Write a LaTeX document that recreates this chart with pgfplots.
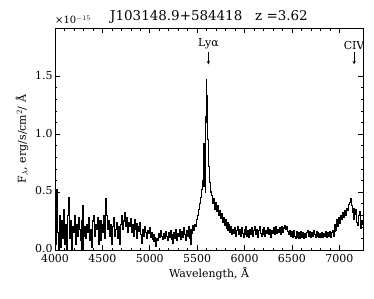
\documentclass[border=0pt]{standalone}
\usepackage{pgfplots}
\pgfplotsset{compat=1.18}
\usepackage{pgfplotstable}
\usepackage{fontspec}
\setmainfont{DejaVu Serif}
\usetikzlibrary{calc}
\pgfplotstableread{
x y
4000 0.30
4010 0.05
4020 0.52
4030 0.15
4040 0.00
4050 0.30
4060 0.02
4070 0.25
4080 0.10
4090 0.20
4100 0.35
4110 0.05
4120 0.22
4130 0.00
4140 0.30
4150 0.45
4160 0.10
4170 0.25
4180 0.00
4190 0.20
4200 0.15
4210 0.30
4220 0.05
4230 0.22
4240 0.12
4250 0.28
4260 0.18
4270 0.08
4280 0.25
4290 0.00
4300 0.38
4310 0.12
4320 0.20
4330 0.10
4340 0.22
4350 0.15
4360 0.28
4370 0.08
4380 0.18
4390 0.02
4400 0.25
4410 0.30
4420 0.12
4430 0.22
4440 0.18
4450 0.28
4460 0.05
4470 0.20
4480 0.25
4490 0.08
4500 0.22
4510 0.15
4520 0.30
4530 0.10
4540 0.44
4550 0.30
4560 0.18
4570 0.25
4580 0.12
4590 0.22
4600 0.05
4610 0.20
4620 0.28
4630 0.12
4640 0.18
4650 0.24
4660 0.10
4670 0.20
4680 0.15
4690 0.05
4700 0.22
4710 0.30
4720 0.18
4730 0.25
4740 0.32
4750 0.20
4760 0.28
4770 0.15
4780 0.24
4790 0.20
4800 0.27
4810 0.15
4820 0.22
4830 0.12
4840 0.26
4850 0.18
4860 0.23
4870 0.10
4880 0.20
4890 0.16
4900 0.24
4910 0.13
4920 0.06
4930 0.18
4940 0.12
4950 0.20
4960 0.15
4970 0.10
4980 0.17
4990 0.14
5000 0.19
5010 0.11
5020 0.15
5030 0.09
5040 0.13
5050 0.07
5060 0.11
5070 0.03
5080 0.10
5090 0.08
5100 0.14
5110 0.11
5120 0.17
5130 0.12
5140 0.09
5150 0.14
5160 0.10
5170 0.16
5180 0.12
5190 0.08
5200 0.15
5210 0.11
5220 0.17
5230 0.09
5240 0.13
5250 0.06
5260 0.15
5270 0.10
5280 0.18
5290 0.08
5300 0.14
5310 0.12
5320 0.18
5330 0.09
5340 0.16
5350 0.11
5360 0.19
5370 0.13
5380 0.08
5390 0.17
5400 0.12
5410 0.20
5420 0.10
5430 0.05
5440 0.18
5450 0.14
5460 0.21
5470 0.17
5480 0.22
5490 0.20
5500 0.26
5510 0.30
5520 0.35
5530 0.40
5540 0.45
5550 0.52
5560 0.60
5565 0.88
5570 0.55
5575 0.92
5580 0.60
5585 0.75
5590 0.50
5595 1.15
5600 1.47
5605 1.10
5610 1.33
5615 0.95
5620 0.80
5625 0.72
5630 0.65
5640 0.58
5650 0.50
5660 0.47
5670 0.40
5680 0.44
5690 0.35
5700 0.41
5710 0.33
5720 0.38
5730 0.30
5740 0.34
5750 0.27
5760 0.31
5770 0.24
5780 0.28
5790 0.21
5800 0.26
5810 0.19
5820 0.24
5830 0.17
5840 0.22
5850 0.15
5860 0.20
5870 0.13
5880 0.18
5890 0.14
5900 0.19
5910 0.12
5920 0.17
5930 0.20
5940 0.13
5950 0.18
5960 0.12
5970 0.19
5980 0.14
5990 0.11
6000 0.18
6010 0.13
6020 0.20
6030 0.12
6040 0.17
6050 0.11
6060 0.18
6070 0.13
6080 0.19
6090 0.12
6100 0.17
6110 0.20
6120 0.13
6130 0.18
6140 0.11
6150 0.17
6160 0.20
6170 0.14
6180 0.12
6190 0.18
6200 0.13
6210 0.19
6220 0.12
6230 0.17
6240 0.14
6250 0.19
6260 0.13
6270 0.18
6280 0.11
6290 0.17
6300 0.14
6310 0.19
6320 0.13
6330 0.20
6340 0.14
6350 0.18
6360 0.15
6370 0.19
6380 0.13
6390 0.18
6400 0.20
6410 0.15
6420 0.19
6430 0.21
6440 0.18
6450 0.20
6460 0.16
6470 0.13
6480 0.17
6490 0.12
6500 0.16
6510 0.11
6520 0.17
6530 0.12
6540 0.10
6550 0.16
6560 0.11
6570 0.15
6580 0.10
6590 0.14
6600 0.16
6610 0.11
6620 0.15
6630 0.10
6640 0.14
6650 0.11
6660 0.15
6670 0.17
6680 0.12
6690 0.16
6700 0.11
6710 0.15
6720 0.12
6730 0.17
6740 0.13
6750 0.11
6760 0.16
6770 0.12
6780 0.15
6790 0.11
6800 0.14
6810 0.11
6820 0.15
6830 0.11
6840 0.14
6850 0.12
6860 0.16
6870 0.11
6880 0.15
6890 0.12
6900 0.16
6910 0.11
6920 0.15
6930 0.17
6940 0.12
6950 0.16
6960 0.22
6970 0.17
6980 0.26
6990 0.20
7000 0.28
7010 0.23
7020 0.30
7030 0.26
7040 0.32
7050 0.28
7060 0.34
7070 0.30
7080 0.36
7090 0.34
7100 0.39
7110 0.41
7120 0.44
7130 0.38
7140 0.32
7150 0.36
7160 0.26
7170 0.31
7180 0.35
7190 0.24
7200 0.21
7210 0.30
7220 0.33
7230 0.19
7240 0.25
7250 0.22
}\spec
\begin{document}
\begin{tikzpicture}
\begin{axis}[
  name=ax,
  scale only axis,
  width=308bp, height=222bp,
  xmin=4000, xmax=7250,
  ymin=0, ymax=1.914,
  xtick={4000,4500,...,7000},
  ytick={0,0.5,1.0,1.5},
  minor x tick num=4,
  minor y tick num=4,
  tick align=inside,
  xtick pos=both, ytick pos=both,
  major tick length=5bp, minor tick length=2.5bp,
  every tick/.style={black, line width=0.6pt},
  axis line style={line width=0.8pt},
  tick label style={font=\fontsize{11}{13}\selectfont},
  xticklabel style={yshift=-1bp},
  yticklabel style={xshift=1bp, yshift=1bp},
  /pgf/number format/assume math mode=true,
  /pgf/number format/1000 sep={},
  yticklabel style={/pgf/number format/fixed, /pgf/number format/fixed zerofill, /pgf/number format/precision=1},
  xlabel={Wavelength, Å},
  ylabel={F$_\lambda$, erg/s/cm$^2$/ Å},
  xlabel style={yshift=2bp},
  label style={font=\fontsize{11}{13}\selectfont},
  title={J103148.9+584418\ \ \ z =3.62},
  title style={font=\fontsize{13.5}{15}\selectfont, yshift=-5bp},
  clip=true,
]
\addplot[black, line width=1.1pt, const plot mark mid] table[x=x,y=y] {\spec};
\node[font=\fontsize{11}{13}\selectfont, anchor=south] at (axis cs:5618,1.70) {Lyα};
\draw[-stealth, line width=0.6pt] (axis cs:5618,1.71) -- (axis cs:5618,1.60);
\node[font=\fontsize{11}{13}\selectfont, anchor=south] at (axis cs:7156,1.70) {CIV};
\draw[-stealth, line width=0.6pt] (axis cs:7156,1.71) -- (axis cs:7156,1.60);
\end{axis}
\node[anchor=south west, font=\fontsize{10}{12}\selectfont, inner sep=0pt] at ($(ax.north west)+(0bp,4bp)$) {×10$^{-15}$};
\pgfresetboundingbox
\path[use as bounding box] ($(ax.south west)+(-55bp,-49bp)$) rectangle ($(ax.north east)+(11bp,28bp)$);
\end{tikzpicture}
\end{document}
